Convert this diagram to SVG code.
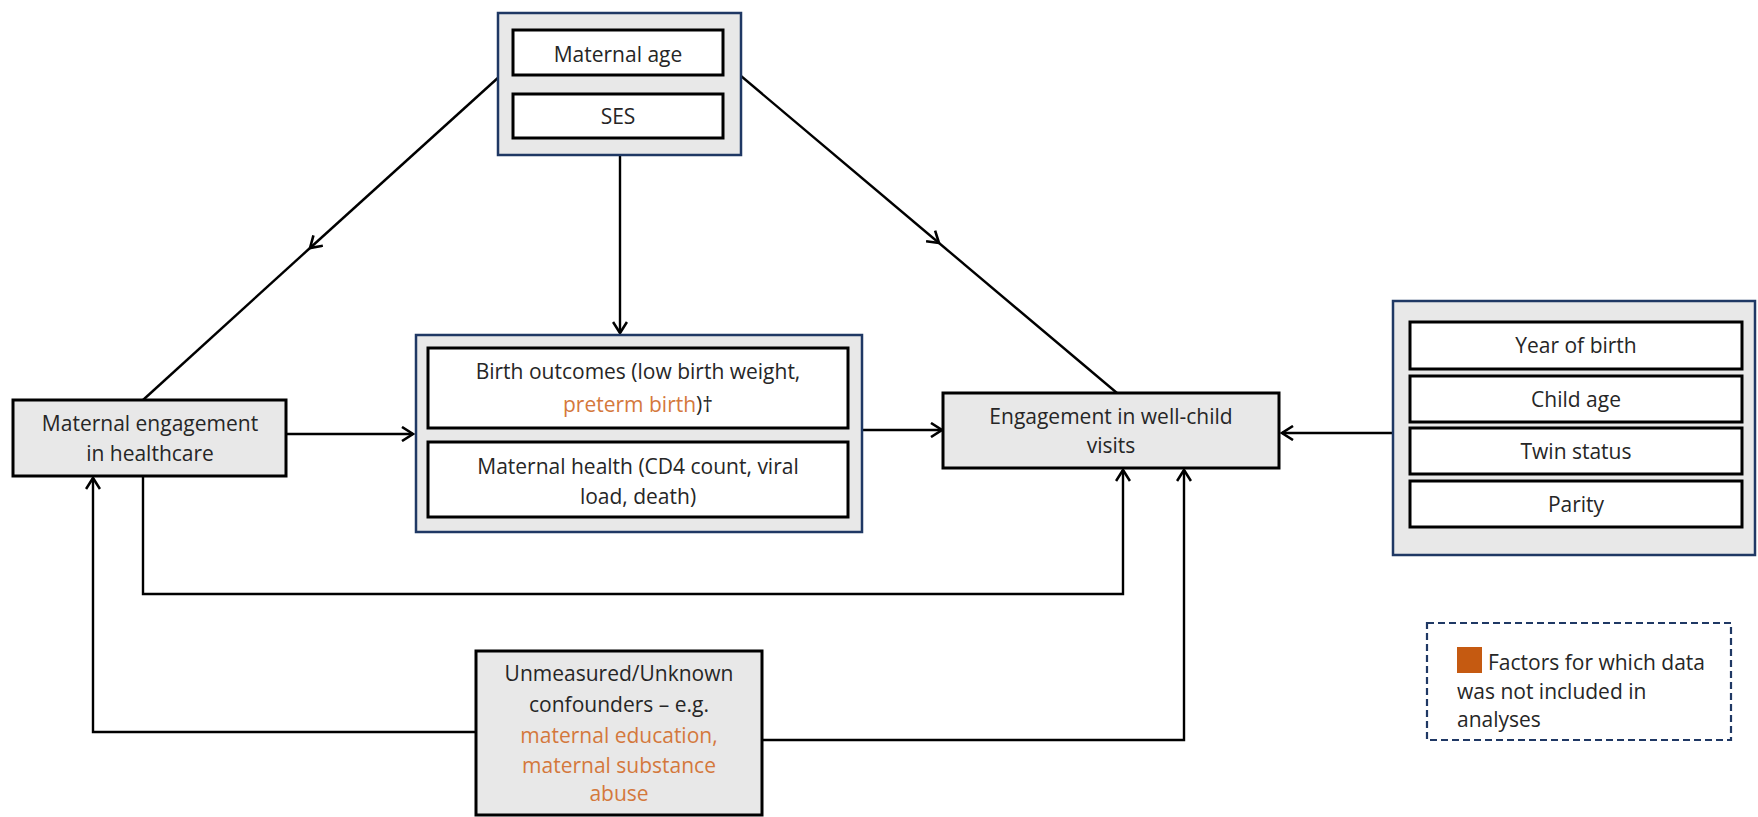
<svg xmlns="http://www.w3.org/2000/svg" width="1758" height="817" viewBox="0 0 1758 817">
<defs>
<marker id="ah" markerWidth="16" markerHeight="16" refX="13" refY="8" orient="auto" markerUnits="userSpaceOnUse">
<path d="M2,1 L13,8 L2,15" fill="none" stroke="#000" stroke-width="2.6"/>
</marker>
<style>
.t{font-family:"Open Sans","Liberation Sans",sans-serif;font-size:21px;fill:#262626;text-anchor:middle}
.o{fill:#D4783C}
.grp{fill:#E8E8E8;stroke:#1F3864;stroke-width:2.5}
.inner{fill:#fff;stroke:#000;stroke-width:3}
.node{fill:#E8E8E8;stroke:#000;stroke-width:3}
.c{fill:none;stroke:#000;stroke-width:2.4}
</style>
</defs>
<rect width="1758" height="817" fill="#fff"/>
<g id="connectors">
<line class="c" x1="500" y1="76" x2="310" y2="248" marker-end="url(#ah)"/>
<line class="c" x1="310" y1="248" x2="143" y2="400"/>
<line class="c" x1="741" y1="76" x2="939" y2="243" marker-end="url(#ah)"/>
<line class="c" x1="939" y1="243" x2="1117" y2="393"/>
<line class="c" x1="620" y1="155" x2="620" y2="333" marker-end="url(#ah)"/>
<line class="c" x1="286" y1="434" x2="413" y2="434" marker-end="url(#ah)"/>
<line class="c" x1="862" y1="430" x2="942" y2="430" marker-end="url(#ah)"/>
<line class="c" x1="1393" y1="433" x2="1282" y2="433" marker-end="url(#ah)"/>
<polyline class="c" points="143,476 143,594 1123,594 1123,470" marker-end="url(#ah)"/>
<polyline class="c" points="476,732 93,732 93,478" marker-end="url(#ah)"/>
<polyline class="c" points="762,740 1184,740 1184,470" marker-end="url(#ah)"/>
</g>
<g id="maternal-factors">
<rect class="grp" x="498" y="13" width="243" height="142"/>
<rect class="inner" x="513" y="30" width="210" height="45"/>
<text class="t" x="618" y="62">Maternal age</text>
<rect class="inner" x="513" y="94" width="210" height="44"/>
<text class="t" x="618" y="124">SES</text>
</g>
<g id="mediators">
<rect class="grp" x="416" y="335" width="446" height="197"/>
<rect class="inner" x="428" y="348" width="420" height="80"/>
<text class="t" x="638" y="379">Birth outcomes (low birth weight,</text>
<text class="t" x="638" y="412"><tspan class="o">preterm birth</tspan>)†</text>
<rect class="inner" x="428" y="442" width="420" height="75"/>
<text class="t" x="638" y="474">Maternal health (CD4 count, viral</text>
<text class="t" x="638" y="504">load, death)</text>
</g>
<g id="maternal-engagement">
<rect class="node" x="13" y="400" width="273" height="76"/>
<text class="t" x="150" y="431">Maternal engagement</text>
<text class="t" x="150" y="461">in healthcare</text>
</g>
<g id="well-child">
<rect class="node" x="943" y="393" width="336" height="75"/>
<text class="t" x="1111" y="424">Engagement in well-child</text>
<text class="t" x="1111" y="453">visits</text>
</g>
<g id="child-factors">
<rect class="grp" x="1393" y="301" width="362" height="254"/>
<rect class="inner" x="1410" y="322" width="332" height="47"/>
<text class="t" x="1576" y="353">Year of birth</text>
<rect class="inner" x="1410" y="376" width="332" height="46"/>
<text class="t" x="1576" y="407">Child age</text>
<rect class="inner" x="1410" y="428" width="332" height="46"/>
<text class="t" x="1576" y="459">Twin status</text>
<rect class="inner" x="1410" y="481" width="332" height="46"/>
<text class="t" x="1576" y="512">Parity</text>
</g>
<g id="unmeasured">
<rect class="node" x="476" y="651" width="286" height="164"/>
<text class="t" x="619" y="681">Unmeasured/Unknown</text>
<text class="t" x="619" y="712">confounders – e.g.</text>
<text class="t o" x="619" y="743">maternal education,</text>
<text class="t o" x="619" y="773">maternal substance</text>
<text class="t o" x="619" y="801">abuse</text>
</g>
<g id="legend">
<rect x="1427" y="623" width="304" height="117" fill="#fff" stroke="#1F3864" stroke-width="2.2" stroke-dasharray="7,4"/>
<rect x="1457" y="647" width="25" height="26" fill="#C55A11"/>
<text class="t" x="1488" y="670" style="text-anchor:start">Factors for which data</text>
<text class="t" x="1457" y="699" style="text-anchor:start">was not included in</text>
<text class="t" x="1457" y="727" style="text-anchor:start">analyses</text>
</g>
</svg>
